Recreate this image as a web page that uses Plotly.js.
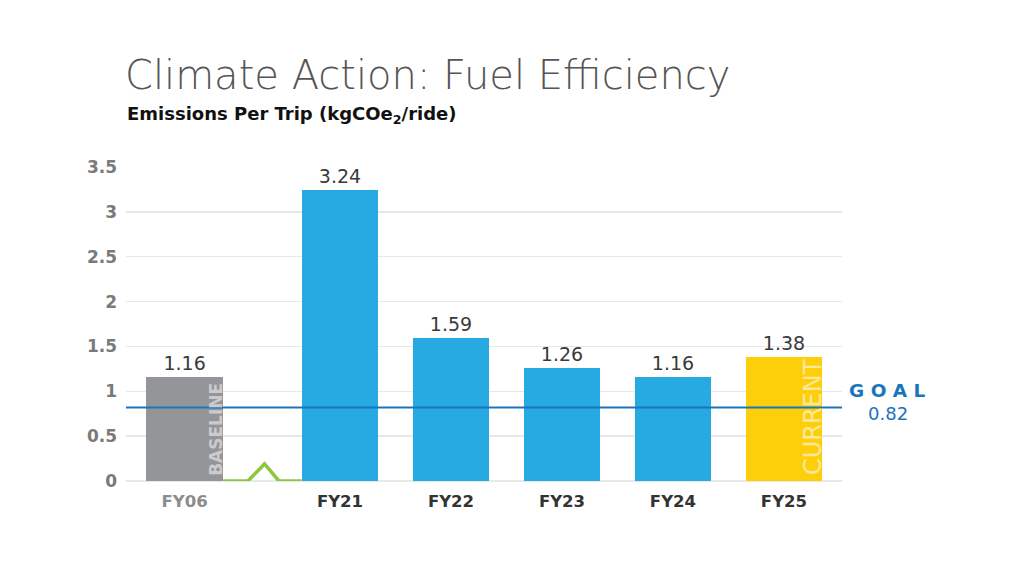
<!DOCTYPE html>
<html>
<head>
<meta charset="utf-8">
<script src="https://cdn.plot.ly/plotly-3.0.1.min.js"></script>
<style>
  html, body { margin: 0; padding: 0; background: #ffffff; }
  #chart { width: 1024px; height: 570px; }
</style>
</head>
<body>
<div id="chart"></div>
<script>
// Emissions per trip by fiscal year
const categories = ['FY06', 'FY21', 'FY22', 'FY23', 'FY24', 'FY25'];
const emissions = [1.16, 3.24, 1.59, 1.26, 1.16, 1.38];
const barColors = ['#939598', '#27a9e1', '#27a9e1', '#27a9e1', '#27a9e1', '#fdcf0a'];
const labelColors = ['#8c8c8c', '#333333', '#333333', '#333333', '#333333', '#333333'];
const goalValue = 0.82;
const yTicks = [0, 0.5, 1, 1.5, 2, 2.5, 3, 3.5];

// Slot positions along the x axis: the baseline year sits apart, past an axis break
const slots = [-0.4, 1, 2, 3, 4, 5];
const barWidth = 0.69;
const FONT = 'DejaVu Sans, Verdana, sans-serif';

const bars = {
  type: 'bar',
  x: slots,
  y: emissions,
  width: barWidth,
  marker: { color: barColors, line: { width: 0 } },
  text: emissions.map(v => v.toFixed(2)),
  textposition: 'outside',
  textfont: { family: FONT, size: 19, color: '#3a3a3a' },
  cliponaxis: false,
  hoverinfo: 'skip'
};

// Axis-break zigzag between the baseline and the recent years
const breakMark = {
  type: 'scatter',
  mode: 'lines',
  x: [-0.053, 0.17, 0.32, 0.45, 0.655],
  y: [0, 0, 0.19, 0, 0],
  line: { color: '#8dc63f', width: 3.5 },
  cliponaxis: false,
  hoverinfo: 'skip'
};

const layout = {
  width: 1024,
  height: 570,
  paper_bgcolor: '#ffffff',
  plot_bgcolor: '#ffffff',
  margin: { l: 126, r: 182, t: 167, b: 89 },
  showlegend: false,
  bargap: 0,
  xaxis: {
    range: [-0.928, 5.523],
    tickmode: 'array',
    tickvals: slots,
    ticktext: categories.map((c, i) => '<span style="color:' + labelColors[i] + '">' + c + '</span>'),
    tickfont: { family: FONT, size: 16.5, color: '#333333', weight: 700 },
    showgrid: false,
    zeroline: false,
    showline: false,
    ticks: '',
    ticklen: 0,
    ticklabelstandoff: 8,
    fixedrange: true
  },
  yaxis: {
    range: [0, 3.5],
    tickmode: 'array',
    tickvals: yTicks,
    ticktext: yTicks.map(String),
    tickfont: { family: FONT, size: 17, color: '#7a7a7a', weight: 700 },
    showgrid: true,
    gridcolor: '#e8e8e8',
    gridwidth: 1.5,
    zeroline: true,
    zerolinecolor: '#e8e8e8',
    zerolinewidth: 1.5,
    showline: false,
    ticks: '',
    ticklabelstandoff: 8,
    fixedrange: true
  },
  shapes: [
    {
      type: 'line', xref: 'paper', yref: 'y',
      x0: 0, x1: 1, y0: goalValue, y1: goalValue,
      line: { color: '#1b75bc', width: 2 }
    }
  ],
  annotations: [
    {
      xref: 'paper', yref: 'paper', x: -0.004, y: 1.293,
      xanchor: 'left', yanchor: 'middle', showarrow: false,
      text: 'Climate Action: Fuel Efficiency',
      font: { family: FONT, size: 40, color: '#555555', weight: 200 }
    },
    {
      xref: 'paper', yref: 'paper', x: -0.002, y: 1.165,
      xanchor: 'left', yanchor: 'middle', showarrow: false,
      text: 'Emissions Per Trip (kgCOe<sub>2</sub>/ride)',
      font: { family: FONT, size: 18, color: '#111111', weight: 700 }
    },
    {
      xref: 'paper', yref: 'y', x: 1.064, y: 1.005,
      xanchor: 'center', yanchor: 'middle', showarrow: false,
      text: 'G O A L',
      font: { family: FONT, size: 18.5, color: '#1b75bc', weight: 800 }
    },
    {
      xref: 'paper', yref: 'y', x: 1.064, y: 0.755,
      xanchor: 'center', yanchor: 'middle', showarrow: false,
      text: String(goalValue),
      font: { family: FONT, size: 18, color: '#1b75bc' }
    },
    {
      xref: 'x', yref: 'y', x: -0.117, y: 0.57,
      xanchor: 'center', yanchor: 'middle', showarrow: false,
      textangle: -90,
      text: 'BASELINE',
      font: { family: FONT, size: 17, color: '#cbcbcd', weight: 700 }
    },
    {
      xref: 'x', yref: 'y', x: 5.26, y: 0.71,
      xanchor: 'center', yanchor: 'middle', showarrow: false,
      textangle: -90,
      text: 'CURRENT',
      font: { family: FONT, size: 24, color: '#fde79a', weight: 400 }
    }
  ]
};

Plotly.newPlot('chart', [bars, breakMark], layout, { staticPlot: true, displayModeBar: false });
</script>
</body>
</html>
